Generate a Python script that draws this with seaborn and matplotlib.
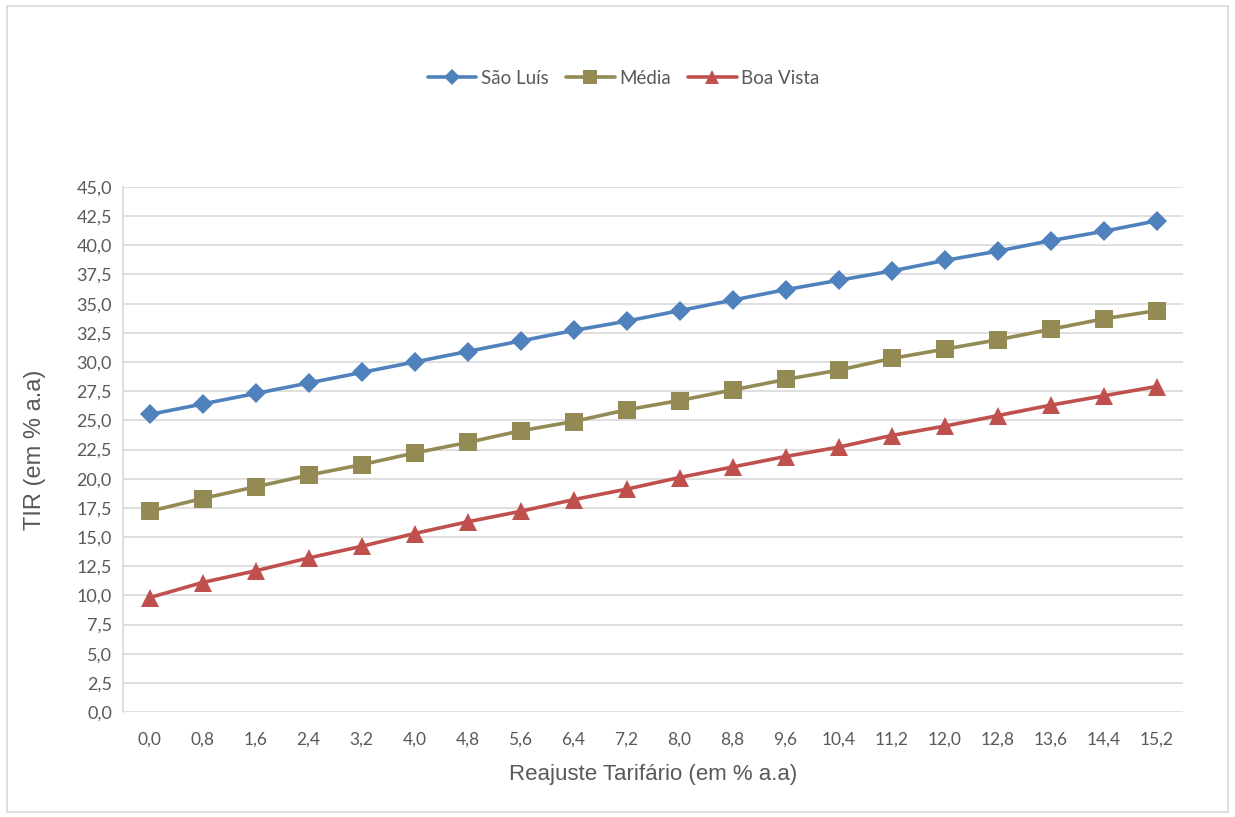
import matplotlib
matplotlib.use("Agg")
import matplotlib.pyplot as plt
from matplotlib.patches import Rectangle
from matplotlib.lines import Line2D
import seaborn as sns
import pandas as pd

# Tariff adjustment steps (% a.a.)
reajuste = ["0,0", "0,8", "1,6", "2,4", "3,2", "4,0", "4,8", "5,6", "6,4", "7,2",
            "8,0", "8,8", "9,6", "10,4", "11,2", "12,0", "12,8", "13,6", "14,4", "15,2"]

# IRR (% a.a.) per scenario
sao_luis = [25.5, 26.4, 27.3, 28.2, 29.1, 30.0, 30.9, 31.8, 32.7, 33.5,
            34.4, 35.3, 36.2, 37.0, 37.8, 38.7, 39.5, 40.4, 41.2, 42.1]
media = [17.2, 18.3, 19.3, 20.3, 21.2, 22.2, 23.1, 24.1, 24.9, 25.9,
         26.7, 27.6, 28.5, 29.3, 30.3, 31.1, 31.9, 32.8, 33.7, 34.4]
boa_vista = [9.8, 11.1, 12.1, 13.2, 14.2, 15.3, 16.3, 17.2, 18.2, 19.1,
             20.1, 21.0, 21.9, 22.7, 23.7, 24.5, 25.4, 26.3, 27.1, 27.9]

series = ["São Luís", "Média", "Boa Vista"]
colors = {"São Luís": "#4F81BD", "Média": "#948A54", "Boa Vista": "#C0504D"}
markers = {"São Luís": "D", "Média": "s", "Boa Vista": "^"}
msizes = {"São Luís": 10.5, "Média": 12.5, "Boa Vista": 12.5}

df = pd.DataFrame({
    "idx": list(range(len(reajuste))) * 3,
    "tir": sao_luis + media + boa_vista,
    "serie": [s for s in series for _ in reajuste],
})

sns.set_style("white")
plt.rcParams["font.family"] = ["Lato", "DejaVu Sans"]
text_color = "#595959"

fig = plt.figure(figsize=(12.35, 8.17), dpi=100)
ax = fig.add_axes([123 / 1235, 1 - 712 / 817, (1183 - 123) / 1235, (712 - 187) / 817])

for s in series:
    sub = df[df["serie"] == s]
    sns.lineplot(data=sub, x="idx", y="tir", ax=ax, color=colors[s], linewidth=2.6,
                 marker=markers[s], markersize=msizes[s], markeredgewidth=0,
                 legend=False, zorder=3)

ax.set_xlim(-0.5, len(reajuste) - 0.5)
ax.set_ylim(0, 45)
ax.set_yticks([i * 2.5 for i in range(19)])
ax.set_yticklabels([f"{i * 2.5:.1f}".replace(".", ",") for i in range(19)],
                   fontsize=13, color=text_color)
ax.set_xticks(range(len(reajuste)))
ax.set_xticklabels(reajuste, fontsize=12.5, color=text_color)
ax.tick_params(axis="both", length=0, pad=8)
ax.tick_params(axis="x", pad=14)
ax.grid(axis="y", color="#D9D9D9", linewidth=1.2)
ax.set_axisbelow(True)
for side in ["top", "right", "bottom"]:
    ax.spines[side].set_visible(False)
ax.spines["left"].set_color("#D9D9D9")
ax.spines["left"].set_linewidth(1.2)

ax.set_xlabel("Reajuste Tarifário (em % a.a)", fontsize=16, color=text_color,
              family=["Liberation Sans", "DejaVu Sans"], labelpad=12)
ax.set_ylabel("TIR (em % a.a)", fontsize=17, color=text_color,
              family=["Liberation Sans", "DejaVu Sans"], labelpad=22)

handles = [Line2D([0], [0], color=colors[s], linewidth=2.6, marker=markers[s],
                  markersize=msizes[s] * 0.8, markeredgewidth=0) for s in series]
fig.legend(handles, series, loc="center", bbox_to_anchor=(0.505, 1 - 78 / 817), ncol=3,
           frameon=False, fontsize=13.5, labelcolor=text_color, handlelength=2.6,
           columnspacing=0.9, handletextpad=0.25)

fig.patches.append(Rectangle((7 / 1235, 5 / 817), 1221 / 1235, 806 / 817,
                             transform=fig.transFigure, fill=False,
                             edgecolor="#D9D9D9", linewidth=1.2))

fig.savefig("out.png", dpi=100, facecolor="white")
